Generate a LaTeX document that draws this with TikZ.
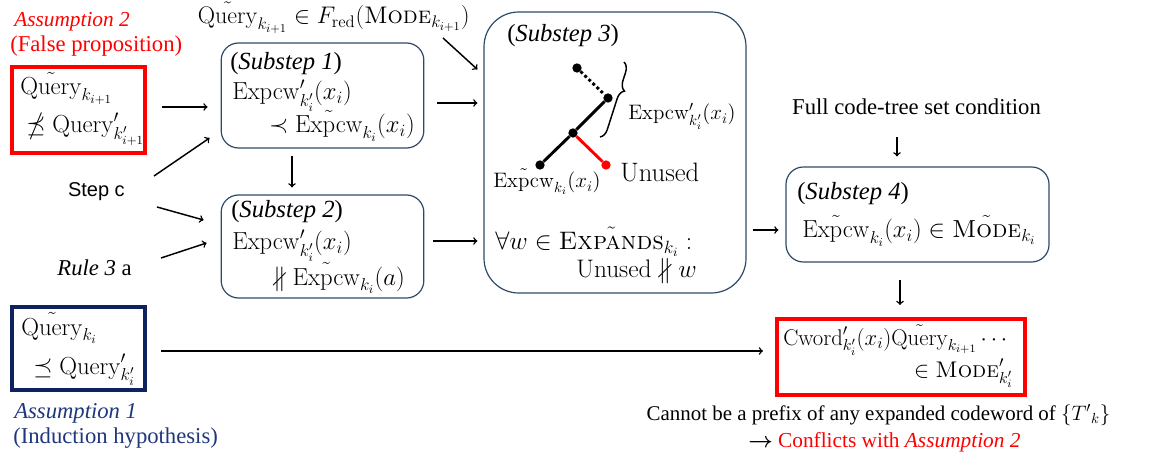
\RequirePackage{fix-cm}
\documentclass[tikz,border=0pt]{standalone}
\usepackage{amsmath}
\usepackage{amssymb}
\usepackage[no-math]{fontspec}
\setmainfont{Liberation Serif}
\setsansfont{Liberation Sans}
\usetikzlibrary{decorations.pathreplacing}
\definecolor{boxline}{RGB}{46,74,104}
\definecolor{navybox}{RGB}{14,34,96}
\definecolor{navytext}{RGB}{30,54,124}
\newcommand{\cmsc}[1]{\text{\usefont{OT1}{cmr}{m}{sc}#1}}
\newcommand{\Qry}{\tilde{\mathrm{Query}}}
\newcommand{\Expcw}{\mathrm{Expcw}}
\tikzset{stepbox/.style={draw=boxline,line width=0.9pt,rounded corners=13pt},
         redbox/.style={draw=red,line width=3pt},
         navyframe/.style={draw=navybox,line width=3pt},
         txt/.style={inner sep=0pt},
         btxt/.style={inner sep=0pt,font=\fontsize{18.5}{22}\selectfont},
         small/.style={inner sep=0pt,font=\fontsize{15.7}{19}\selectfont},
         dot/.style={circle,fill,inner sep=0pt,minimum size=7pt},
         arr/.style={->,line width=1.1pt}}

\begin{document}
\begin{tikzpicture}[x=0.75pt,y=-0.75pt,font=\fontsize{17}{20}\selectfont]
        \useasboundingbox (0,0) rectangle (1152,463);

        % boxes
        \node[redbox, minimum width=99.75pt, minimum height=64.5pt](a2)at(78.5,110){};
        \node[stepbox, minimum width=152pt, minimum height=78.75pt](s1)at(322.5,95.5){};
        \node[stepbox, minimum width=152pt, minimum height=77.25pt](s2)at(322.5,246.5){};
        \node[stepbox, rounded corners=26pt, minimum width=196.5pt, minimum height=210.75pt](s3)at(615,152.5){};
        \node[stepbox, minimum width=197.25pt, minimum height=71.25pt](s4)at(917.5,214.5){};
        \node[navyframe, minimum width=99.75pt, minimum height=62.25pt](a1)at(78.5,348.5){};
        \node[redbox, minimum width=186pt, minimum height=57pt](res)at(901,357){};

        % left texts
        \node[txt, anchor=base west, red, font=\fontsize{16}{19}\selectfont](a2t)at(14,27){\textit{Assumption 2}};
        \node[txt, anchor=base west, red](a2s)at(10,52){(False proposition)};
        \node[btxt, anchor=base west](a2a)at(20,95){$\Qry_{k_{i+1}}$};
        \node[btxt, anchor=base west](a2b)at(26,133){$\npreceq \mathrm{Query}'_{k'_{i+1}}$};
        \node[txt, anchor=base east, font=\fontsize{15}{18}\sffamily](stepc)at(125,197){Step c};
        \node[txt, anchor=base east](rule3)at(132,275){\textit{Rule 3} a};
        \node[btxt, anchor=base west](a1a)at(21,335){$\Qry_{k_i}$};
        \node[btxt, anchor=base west](a1b)at(33,374){$\preceq \mathrm{Query}'_{k'_i}$};
        \node[txt, anchor=base west, navytext](a1t)at(14,418){\textit{Assumption 1}};
        \node[txt, anchor=base west, navytext](a1s)at(13,443){(Induction hypothesis)};

        % substeps 1 and 2
        \node[txt, anchor=base east, font=\fontsize{18}{21}\selectfont](top)at(470,24){$\Qry_{k_{i+1}} \in F_{\mathrm{red}}(\cmsc{Mode}_{k_{i+1}})$};
        \node[btxt, anchor=base west](s1a)at(230,70){(\textit{Substep 1})};
        \node[btxt, anchor=base west](s1b)at(232,100){$\Expcw'_{k'_i}(x_i)$};
        \node[btxt, anchor=base east](s1c)at(415,133){$\prec \tilde{\Expcw}_{k_i}(x_i)$};
        \node[btxt, anchor=base west](s2a)at(231,218){(\textit{Substep 2})};
        \node[btxt, anchor=base west](s2b)at(232,250){$\Expcw'_{k'_i}(x_i)$};
        \node[btxt, anchor=base east](s2c)at(405,285){$\nparallel \tilde{\Expcw}_{k_i}(a)$};

        % substep 3
        \node[btxt, anchor=base west](s3a)at(507,42){(\textit{Substep 3})};
        \node[dot](n1)at(577,68){};
        \node[dot](n2)at(608,98){};
        \node[dot](n3)at(573,133){};
        \node[dot](n4)at(540,165){};
        \node[dot, red](n5)at(606,165){};
        \draw[line width=2.2pt, dotted](n1)--(n2);
        \draw[line width=2.2pt](n2)--(n3)--(n4);
        \draw[line width=2.2pt, red](n3)--(n5);
        \draw[line width=1.1pt, decorate, decoration={brace, amplitude=7pt, aspect=0.35}](624,62)--(600,137);
        \node[small, anchor=base west](brl)at(628,120){$\Expcw'_{k'_i}(x_i)$};
        \node[small, anchor=base west](n4l)at(493,188){$\tilde{\Expcw}_{k_i}(x_i)$};
        \node[txt, anchor=base west, font=\fontsize{20}{24}\selectfont](n5l)at(620,182){$\mathrm{Unused}$};
        \node[txt, anchor=base west, font=\fontsize{19}{23}\selectfont](s3b)at(495,250){$\forall w \in \tilde{\cmsc{Expands}}_{k_i}:$};
        \node[txt, anchor=base east, font=\fontsize{19}{23}\selectfont](s3c)at(697,277){$\mathrm{Unused} \nparallel w$};

        % substep 4 and result
        \node[txt, anchor=base](full)at(916.5,115){Full code-tree set condition};
        \node[btxt, anchor=base west](s4a)at(797,200){(\textit{Substep 4})};
        \node[btxt, anchor=base west](s4b)at(802,238){$\tilde{\Expcw}_{k_i}(x_i) \in \tilde{\cmsc{Mode}}_{k_i}$};
        \node[txt, anchor=base west](resa)at(783,345){$\mathrm{Cword}'_{k'_i}(x_i)\Qry_{k_{i+1}}\cdots$};
        \node[txt, anchor=base east](resb)at(1013,377){$\in \cmsc{Mode}'_{k'_i}$};
        \node[small, anchor=base](cannot)at(878.5,420){Cannot be a prefix of any expanded codeword of $\{{T'}_k\}$};
        \node[txt, anchor=base west, font=\fontsize{16}{19}\selectfont](confl)at(748,447){$\boldsymbol{\rightarrow}$ \textcolor{red}{Conflicts with \textit{Assumption 2}}};

        % arrows
        \draw[arr]([shift={(15,-3)}]a2.east)--([shift={(-13,11.5)}]s1.west);
        \draw[arr]([shift={(29,-21)}]stepc.base east)--([shift={(-11,42.5)}]s1.west);
        \draw[arr]([shift={(32,10)}]stepc.base east)--([shift={(-17,-26.5)}]s2.west);
        \draw[arr]([shift={(29,-17)}]rule3.base east)--([shift={(-14,-3.5)}]s2.west);
        \draw[arr]([shift={(-27,14)}]top.base east)--([shift={(-6,58)}]s3.north west);
        \draw[arr]([shift={(13,7.5)}]s1.east)--([shift={(-6,-49.5)}]s3.west);
        \draw[arr]([shift={(-30.5,7)}]s1.south)--([shift={(-30.5,-7)}]s2.north);
        \draw[arr]([shift={(9,-5.5)}]s2.east)--([shift={(-6,88.5)}]s3.west);
        \draw[arr]([shift={(6,77.5)}]s3.east)--([shift={(-7,15.5)}]s4.west);
        \draw[arr]([shift={(-19.5,22)}]full.base)--([shift={(-20.5,-10)}]s4.north);
        \draw[arr]([shift={(-17.5,17)}]s4.south)--([shift={(-1,-12)}]res.north);
        \draw[arr]([shift={(14,2.5)}]a1.east)--([shift={(-12,-6)}]res.west);
    \end{tikzpicture}
\end{document}
